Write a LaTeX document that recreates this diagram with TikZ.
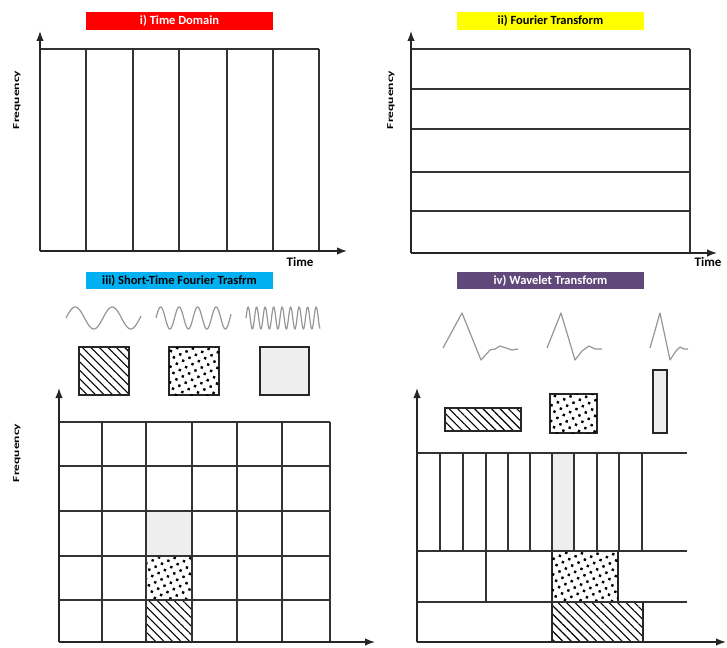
\documentclass[tikz,border=0pt]{standalone}
\usepackage{fontspec}
\setmainfont{Carlito}
\usetikzlibrary{positioning, arrows.meta, patterns.meta}
\definecolor{titleRed}{RGB}{255,0,0}
\definecolor{titleYellow}{RGB}{255,255,0}
\definecolor{titleCyan}{RGB}{0,176,240}
\definecolor{titlePurple}{RGB}{96,73,122}
\definecolor{cellGray}{RGB}{238,238,238}
\definecolor{waveGray}{RGB}{150,150,150}

\begin{document}
\begin{tikzpicture}[x=1pt, y=-1pt,
    title/.style={rectangle, minimum width=187pt, minimum height=18pt, inner sep=0pt,
      font=\bfseries\fontsize{12.5}{14}\selectfont},
    axis/.style={-{Latex[length=10pt, width=7.5pt]}, line width=1.4pt, black!85},
    gridline/.style={line width=1.3pt, black!80},
    tile/.style={rectangle, draw=black!85, line width=1.3pt, inner sep=0pt},
    hatched/.style={tile, pattern={Lines[angle=-45, distance=6pt, line width=1.1pt]}},
    speckled/.style={tile, fill=white, postaction={pattern={Dots[radius=1.7pt, distance=7pt, angle=25]}}},
    shaded/.style={tile, fill=cellGray},
    wave/.style={waveGray, line width=1.2pt, line join=round},
    axlabel/.style={font=\bfseries\fontsize{13}{14}\selectfont},
    freqlabel/.style={font=\bfseries\fontsize{9}{10}\selectfont, rotate=90}
  ]
  \useasboundingbox (0,0) rectangle (727,647);

  % i) time domain
  \node[title, fill=titleRed, text=white] (titleA) at (179.5,21) {i) Time Domain};
  \draw[gridline] (40,49) -- (319,49);
  \foreach \xx in {86,133,179,227,273,319}
    \draw[gridline] (\xx,49) -- (\xx,251);
  \draw[axis] (40,251) -- (40,31);
  \draw[axis] (40,251) -- (347,251);
  \node[axlabel] (timeA) at (300,262) {Time};
  \node[freqlabel] (freqA) at (17,100) {\scalebox{1.5}[1]{Frequency}};

  % ii) fourier transform
  \node[title, fill=titleYellow, text=black] (titleB) at (550.5,21) {ii) Fourier Transform};
  \foreach \yy in {49,89,129,172,211}
    \draw[gridline] (411,\yy) -- (690,\yy);
  \draw[gridline] (690,49) -- (690,253);
  \draw[axis] (411,253) -- (411,31);
  \draw[axis] (411,253) -- (717,253);
  \node[axlabel] (timeB) at (708,262) {Time};
  \node[freqlabel] (freqB) at (391,100) {\scalebox{1.5}[1]{Frequency}};

  % iii) short-time fourier
  \node[title, fill=titleCyan, text=black, minimum height=17pt] (titleC) at (179.5,280.5) {iii) Short-Time Fourier Trasfrm};
  \draw[wave] plot[domain=66:141, samples=120] (\x, {318-11*sin((\x-66)/37*360)});
  \draw[wave] plot[domain=156:231, samples=160] (\x, {318-11*sin((\x-156)/18.5*360)});
  \draw[wave] plot[domain=246:320, samples=300] (\x, {318-11*sin((\x-246)/8.5*360)});
  \node[hatched, minimum width=50pt, minimum height=48pt] (winA) at (104,371) {};
  \node[speckled, minimum width=50pt, minimum height=48pt] (winB) at (194,371) {};
  \node[shaded, minimum width=49pt, minimum height=48pt] (winC) at (284.5,371) {};
  \node[shaded, minimum width=46pt, minimum height=45pt] (cellC) at (169,533.5) {};
  \node[speckled, minimum width=46pt, minimum height=44pt] (cellB) at (169,578) {};
  \node[hatched, minimum width=46pt, minimum height=42pt] (cellA) at (169,621) {};
  \foreach \yy in {422,466,511,556,600}
    \draw[gridline] (59,\yy) -- (330,\yy);
  \foreach \xx in {102,146,192,237,282,330}
    \draw[gridline] (\xx,422) -- (\xx,642);
  \draw[axis] (59,642) -- (59,388);
  \draw[axis] (59,642) -- (375,642);
  \node[freqlabel] (freqC) at (17,453) {\scalebox{1.5}[1]{Frequency}};

  % iv) wavelet transform
  \node[title, fill=titlePurple, text=white, minimum height=17pt] (titleD) at (550.5,280.5) {iv) Wavelet Transform};
  \draw[wave] (443,348) -- (462,313) -- (481,360) -- (490,350) -- (495,349) -- (500,346)
    -- (506,348) -- (512,350) -- (518,349);
  \draw[wave] (547,348) -- (561,313) -- (575,360) -- (582,351) -- (589,346) -- (595,349) -- (602,349);
  \draw[wave] (650,348) -- (660,313) -- (670,360) -- (676,351) -- (680,347) -- (684,349) -- (688,349);
  \node[hatched, minimum width=76pt, minimum height=23pt] (wavA) at (483,419.5) {};
  \node[speckled, minimum width=47pt, minimum height=39pt] (wavB) at (573.5,413.5) {};
  \node[shaded, minimum width=14pt, minimum height=63pt] (wavC) at (660,401.5) {};
  \node[shaded, minimum width=22pt, minimum height=98pt] (bandC) at (563,502) {};
  \node[speckled, minimum width=66pt, minimum height=51pt] (bandB) at (585,576.5) {};
  \node[hatched, minimum width=91pt, minimum height=40pt] (bandA) at (597.5,622) {};
  \foreach \yy in {453,551,602}
    \draw[gridline] (417,\yy) -- (687,\yy);
  \foreach \xx in {440,463,486,508,530,552,574,597,619,642}
    \draw[gridline] (\xx,453) -- (\xx,551);
  \draw[gridline] (486,551) -- (486,602);
  \draw[axis] (417,642) -- (417,388);
  \draw[axis] (417,642) -- (726,642);
\end{tikzpicture}
\end{document}
